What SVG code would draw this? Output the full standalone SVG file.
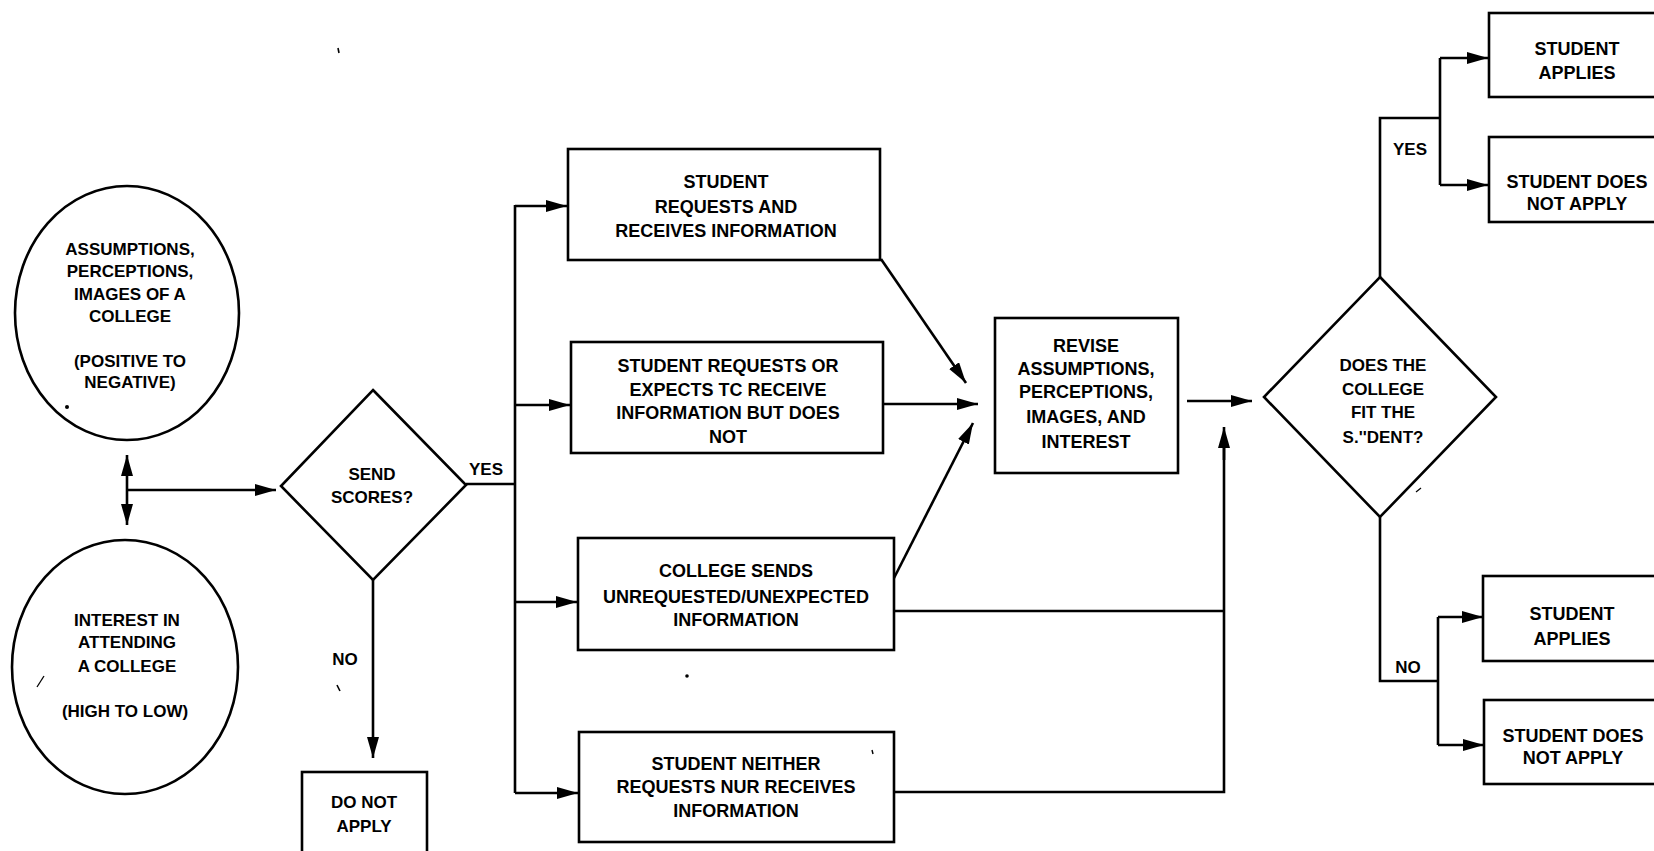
<svg xmlns="http://www.w3.org/2000/svg" width="1654" height="851" viewBox="0 0 1654 851">
<style>
.s{fill:none;stroke:#000;stroke-width:2.6;stroke-linejoin:miter}
.n{fill:#fff;stroke:#000;stroke-width:2.6}
.t{font-family:"Liberation Sans",Arial,sans-serif;font-weight:bold;font-size:17px;fill:#000;text-anchor:middle}
.b{font-size:18px}
.a{fill:none;stroke:#000;stroke-width:2.6;marker-end:url(#ah)}
.k{fill:#000;stroke:none}
</style>
<defs>
<marker id="ah" markerUnits="userSpaceOnUse" markerWidth="24" markerHeight="14" refX="21" refY="6" orient="auto-start-reverse">
<path d="M0,0 L21,6 L0,12 z" fill="#000"/>
</marker>
</defs>
<rect width="1654" height="851" fill="#fff"/>

<g id="connectors">
<line class="s" x1="127" y1="455" x2="127" y2="525" marker-start="url(#ah)" marker-end="url(#ah)"/>
<line class="a" x1="127" y1="490" x2="276" y2="490"/>
<line class="s" x1="466" y1="484" x2="515" y2="484"/>
<line class="s" x1="515" y1="205" x2="515" y2="793"/>
<line class="a" x1="515" y1="206" x2="567" y2="206"/>
<line class="a" x1="515" y1="405" x2="570" y2="405"/>
<line class="a" x1="515" y1="602" x2="577" y2="602"/>
<line class="a" x1="515" y1="793" x2="578" y2="793"/>
<line class="a" x1="373" y1="580" x2="373" y2="758"/>
<line class="a" x1="881" y1="259" x2="966" y2="383"/>
<line class="a" x1="884" y1="404" x2="978" y2="404"/>
<line class="a" x1="893" y1="580" x2="973" y2="423"/>
<line class="a" x1="1187" y1="401" x2="1252" y2="401"/>
<polyline class="s" points="895,611 1224,611"/>
<polyline class="s" points="895,792 1224,792 1224,440"/>
<line class="a" x1="1224" y1="460" x2="1224" y2="427"/>
<polyline class="s" points="1380,277 1380,118 1440,118"/>
<line class="s" x1="1440" y1="58" x2="1440" y2="185"/>
<line class="a" x1="1440" y1="58" x2="1488" y2="58"/>
<line class="a" x1="1440" y1="185" x2="1488" y2="185"/>
<polyline class="s" points="1380,517 1380,681 1438,681"/>
<line class="s" x1="1438" y1="617" x2="1438" y2="745"/>
<line class="a" x1="1438" y1="617" x2="1483" y2="617"/>
<line class="a" x1="1438" y1="745" x2="1484" y2="745"/>
<text class="t" x="486" y="475">YES</text>
<text class="t" x="345" y="665">NO</text>
<text class="t" x="1410" y="155">YES</text>
<text class="t" x="1408" y="673">NO</text>
</g>

<g id="ellipse-assumptions">
<ellipse class="n" cx="127" cy="313" rx="112" ry="127"/>
<text class="t" x="130" y="255">ASSUMPTIONS,</text>
<text class="t" x="130" y="277">PERCEPTIONS,</text>
<text class="t" x="130" y="300">IMAGES OF A</text>
<text class="t" x="130" y="322">COLLEGE</text>
<text class="t" x="130" y="367">(POSITIVE TO</text>
<text class="t" x="130" y="388">NEGATIVE)</text>
</g>

<g id="ellipse-interest">
<ellipse class="n" cx="125" cy="667" rx="113" ry="127"/>
<text class="t" x="127" y="626">INTEREST IN</text>
<text class="t" x="127" y="648">ATTENDING</text>
<text class="t" x="127" y="672">A COLLEGE</text>
<text class="t" x="125" y="717">(HIGH TO LOW)</text>
</g>

<g id="diamond-send-scores">
<polygon class="n" points="373,390 466,485 373,580 281,486"/>
<text class="t" x="372" y="480">SEND</text>
<text class="t" x="372" y="503">SCORES?</text>
</g>

<g id="box-do-not-apply">
<rect class="n" x="302" y="772" width="125" height="90"/>
<text class="t" x="364" y="808">DO NOT</text>
<text class="t" x="364" y="832">APPLY</text>
</g>

<g id="box-requests-receives">
<rect class="n" x="568" y="149" width="312" height="111"/>
<text class="t b" x="726" y="188">STUDENT</text>
<text class="t b" x="726" y="213">REQUESTS AND</text>
<text class="t b" x="726" y="237">RECEIVES INFORMATION</text>
</g>

<g id="box-requests-not">
<rect class="n" x="571" y="342" width="312" height="111"/>
<text class="t b" x="728" y="372">STUDENT REQUESTS OR</text>
<text class="t b" x="728" y="396">EXPECTS TC RECEIVE</text>
<text class="t b" x="728" y="419">INFORMATION BUT DOES</text>
<text class="t b" x="728" y="443">NOT</text>
</g>

<g id="box-college-sends">
<rect class="n" x="578" y="538" width="316" height="112"/>
<text class="t b" x="736" y="577">COLLEGE SENDS</text>
<text class="t b" x="736" y="603">UNREQUESTED/UNEXPECTED</text>
<text class="t b" x="736" y="626">INFORMATION</text>
</g>

<g id="box-neither">
<rect class="n" x="579" y="732" width="315" height="110"/>
<text class="t b" x="736" y="770">STUDENT NEITHER</text>
<text class="t b" x="736" y="793">REQUESTS NUR RECEIVES</text>
<text class="t b" x="736" y="817">INFORMATION</text>
</g>

<g id="box-revise">
<rect class="n" x="995" y="318" width="183" height="155"/>
<text class="t b" x="1086" y="352">REVISE</text>
<text class="t b" x="1086" y="375">ASSUMPTIONS,</text>
<text class="t b" x="1086" y="398">PERCEPTIONS,</text>
<text class="t b" x="1086" y="423">IMAGES, AND</text>
<text class="t b" x="1086" y="448">INTEREST</text>
</g>

<g id="diamond-fit">
<polygon class="n" points="1380,277 1496,397 1380,517 1264,397"/>
<text class="t" x="1383" y="371">DOES THE</text>
<text class="t" x="1383" y="395">COLLEGE</text>
<text class="t" x="1383" y="418">FIT THE</text>
<text class="t" x="1383" y="443">S.''DENT?</text>
</g>

<g id="box-yes-applies">
<rect class="n" x="1489" y="13" width="180" height="84"/>
<text class="t b" x="1577" y="55">STUDENT</text>
<text class="t b" x="1577" y="79">APPLIES</text>
</g>

<g id="box-yes-not-apply">
<rect class="n" x="1489" y="137" width="180" height="85"/>
<text class="t b" x="1577" y="188">STUDENT DOES</text>
<text class="t b" x="1577" y="210">NOT APPLY</text>
</g>

<g id="box-no-applies">
<rect class="n" x="1483" y="576" width="186" height="85"/>
<text class="t b" x="1572" y="620">STUDENT</text>
<text class="t b" x="1572" y="645">APPLIES</text>
</g>

<g id="box-no-not-apply">
<rect class="n" x="1484" y="700" width="185" height="84"/>
<text class="t b" x="1573" y="742">STUDENT DOES</text>
<text class="t b" x="1573" y="764">NOT APPLY</text>
</g>

<g id="specks">
<circle class="k" cx="67" cy="407" r="2"/>
<path d="M37,687 L44,676" stroke="#000" stroke-width="1.3" fill="none"/>
<path d="M337,685 L340,691" stroke="#000" stroke-width="1.6" fill="none"/>
<path d="M338,48 L339,53" stroke="#000" stroke-width="1.6" fill="none"/>
<circle class="k" cx="687" cy="676" r="1.8"/>
<path d="M872,750 L873,754" stroke="#000" stroke-width="1.4" fill="none"/>
<path d="M1416,492 L1421,488" stroke="#000" stroke-width="1.3" fill="none"/>
</g>
</svg>
